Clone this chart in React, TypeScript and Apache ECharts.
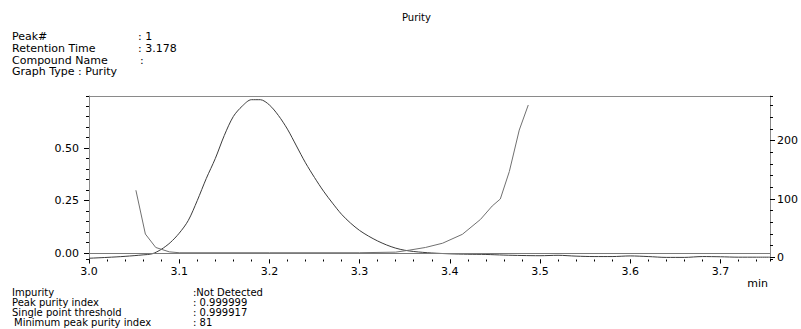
import React, { useEffect, useRef } from "react";
import * as echarts from "echarts";

// Chromatogram (left axis, AU)
const chromTime = [3.0, 3.02, 3.04, 3.06, 3.07, 3.08, 3.09, 3.1, 3.11, 3.12, 3.13, 3.14, 3.15, 3.16, 3.17, 3.18, 3.19, 3.2, 3.21, 3.22, 3.23, 3.24, 3.25, 3.26, 3.27, 3.28, 3.29, 3.3, 3.31, 3.32, 3.33, 3.34, 3.35, 3.36, 3.37, 3.38, 3.4, 3.42, 3.44, 3.46, 3.48, 3.5, 3.52, 3.54, 3.56, 3.58, 3.6, 3.62, 3.64, 3.66, 3.68, 3.7, 3.72, 3.74, 3.755];
const chromValue = [-0.024, -0.02, -0.015, -0.008, -0.003, 0.018, 0.05, 0.095, 0.155, 0.25, 0.355, 0.45, 0.56, 0.65, 0.7, 0.73, 0.73, 0.705, 0.655, 0.59, 0.51, 0.43, 0.36, 0.295, 0.238, 0.185, 0.143, 0.108, 0.081, 0.058, 0.039, 0.024, 0.014, 0.008, 0.004, 0.001, -0.003, -0.005, -0.006, -0.009, -0.011, -0.012, -0.01, -0.014, -0.016, -0.016, -0.013, -0.016, -0.02, -0.02, -0.016, -0.017, -0.019, -0.019, -0.019];

// Purity curve (right axis)
const purityTime = [3.052, 3.0625, 3.074, 3.089, 3.1, 3.2, 3.3, 3.34, 3.355, 3.373, 3.392, 3.414, 3.434, 3.447, 3.456, 3.466, 3.477, 3.487];
const purityValue = [115, 40, 17, 9.5, 8, 8, 8, 9, 12.4, 17, 24.3, 39.6, 65, 88, 100, 147, 218, 261];

const headerLabels = ["Peak#", "Retention Time", "Compound Name", "Graph Type : Purity"];
const headerValues = [": 1", ": 3.178", ":", ""];
const footerLabels = ["Impurity", "Peak purity index", "Single point threshold", "Minimum peak purity index"];
const footerValues = [":Not Detected", ": 0.999999", ": 0.999917", ": 81"];

const FONT = "DejaVu Sans";

export default function App() {
  const ref = useRef<HTMLDivElement>(null);
  useEffect(() => {
    document.body.style.margin = "0";
    const chart = echarts.init(ref.current!, undefined, { renderer: "svg" });
    const left = 89, right = 31, top = 96, bottom = 69.5;
    const axisGrey = "#8a8a8a";
    const txt = (x: number, y: number, text: string, size = 11, align = "left") => ({
      type: "text", x, y,
      style: { text, font: `${size}px "${FONT}"`, fill: "#000", align, verticalAlign: "middle" },
    });
    const graphics: any[] = [txt(402, 17, "Purity", 10)];
    const hy = [36, 48, 60, 71.5];
    headerLabels.forEach((t, i) => graphics.push(txt(12, hy[i], t, 11)));
    headerValues.forEach((t, i) => t && graphics.push(txt(i === 2 ? 140 : 138, hy[i], t, 11)));
    const fy = [292.5, 302.5, 312.5, 322.5];
    footerLabels.forEach((t, i) => graphics.push(txt(i === 3 ? 14 : 12, fy[i], t, 10)));
    footerValues.forEach((t, i) => graphics.push(txt(193, fy[i], t, 10)));
    graphics.push(txt(768, 283, "min", 11, "right"));

    const fmt1 = (v: number) => (Math.abs(v * 10 - Math.round(v * 10)) < 1e-6 ? v.toFixed(1) : "");
    const fmt2 = (v: number) => (Math.abs(v * 4 - Math.round(v * 4)) < 1e-6 ? v.toFixed(2) : "");
    const fmt0 = (v: number) => (Math.abs(v / 100 - Math.round(v / 100)) < 1e-6 ? String(Math.round(v)) : "");
    const labelStyle = { color: "#000", fontFamily: FONT, fontSize: 11 };

    chart.setOption({
      animation: false,
      backgroundColor: "#fff",
      grid: { left, right, top, bottom, containLabel: false },
      graphic: graphics,
      xAxis: [
        {
          type: "value", min: 3.0, max: 3.755, interval: 0.1, position: "bottom",
          axisLine: { show: false, onZero: false },
          axisTick: { show: true, length: 4, lineStyle: { color: "#000" } },
          axisLabel: { ...labelStyle, margin: 6, formatter: fmt1, showMaxLabel: false },
          splitLine: { show: false },
        },
        {
          type: "value", min: 3.0, max: 3.755, interval: 0.02, position: "bottom",
          axisLine: { show: false, onZero: false },
          axisTick: { show: true, length: 2, lineStyle: { color: "#000" } },
          axisLabel: { show: false },
          splitLine: { show: false },
        },
        {
          type: "value", min: 3.0, max: 3.755, position: "top",
          axisLine: { show: true, onZero: false, lineStyle: { color: axisGrey } },
          axisTick: { show: false }, axisLabel: { show: false }, splitLine: { show: false },
        },
      ],
      yAxis: [
        {
          type: "value", min: -0.03, max: 0.7476, minInterval: 0.25, maxInterval: 0.25, position: "left",
          axisLine: { show: true, onZero: false, lineStyle: { color: axisGrey } },
          axisTick: { show: true, length: 5, lineStyle: { color: "#000" } },
          axisLabel: { ...labelStyle, margin: 10, formatter: fmt2, showMinLabel: false, showMaxLabel: false },
          splitLine: { show: false },
        },
        {
          type: "value", min: -3.6, max: 276.4, minInterval: 100, maxInterval: 100, position: "right",
          axisLine: { show: true, onZero: false, lineStyle: { color: axisGrey } },
          axisTick: { show: true, length: 5, lineStyle: { color: "#000" } },
          axisLabel: { ...labelStyle, margin: 7, formatter: fmt0, showMinLabel: false, showMaxLabel: false },
          splitLine: { show: false },
        },
        {
          type: "value", min: -0.03, max: 0.7476, minInterval: 0.05, maxInterval: 0.05, position: "left",
          axisLine: { show: false, onZero: false },
          axisTick: { show: true, length: 3, lineStyle: { color: "#000" } },
          axisLabel: { show: false }, splitLine: { show: false },
        },
        {
          type: "value", min: -3.6, max: 276.4, minInterval: 20, maxInterval: 20, position: "right",
          axisLine: { show: false, onZero: false },
          axisTick: { show: true, length: 3, lineStyle: { color: "#000" } },
          axisLabel: { show: false }, splitLine: { show: false },
        },
      ],
      series: [
        {
          name: "Chromatogram", type: "line", xAxisIndex: 0, yAxisIndex: 0,
          data: chromTime.map((t, i) => [t, chromValue[i]]),
          showSymbol: false, smooth: 0.3,
          lineStyle: { color: "#3c3c3c", width: 1 },
          markLine: {
            silent: true, symbol: "none", label: { show: false },
            lineStyle: { color: "#7a7a7a", width: 1, type: "solid" },
            data: [{ yAxis: 0 }],
          },
        },
        {
          name: "Purity", type: "line", xAxisIndex: 0, yAxisIndex: 1,
          data: purityTime.map((t, i) => [t, purityValue[i]]),
          showSymbol: false,
          lineStyle: { color: "#707070", width: 1 },
        },
      ],
    });
    return () => chart.dispose();
  }, []);
  return <div ref={ref} style={{ width: 801, height: 329 }} />;
}
